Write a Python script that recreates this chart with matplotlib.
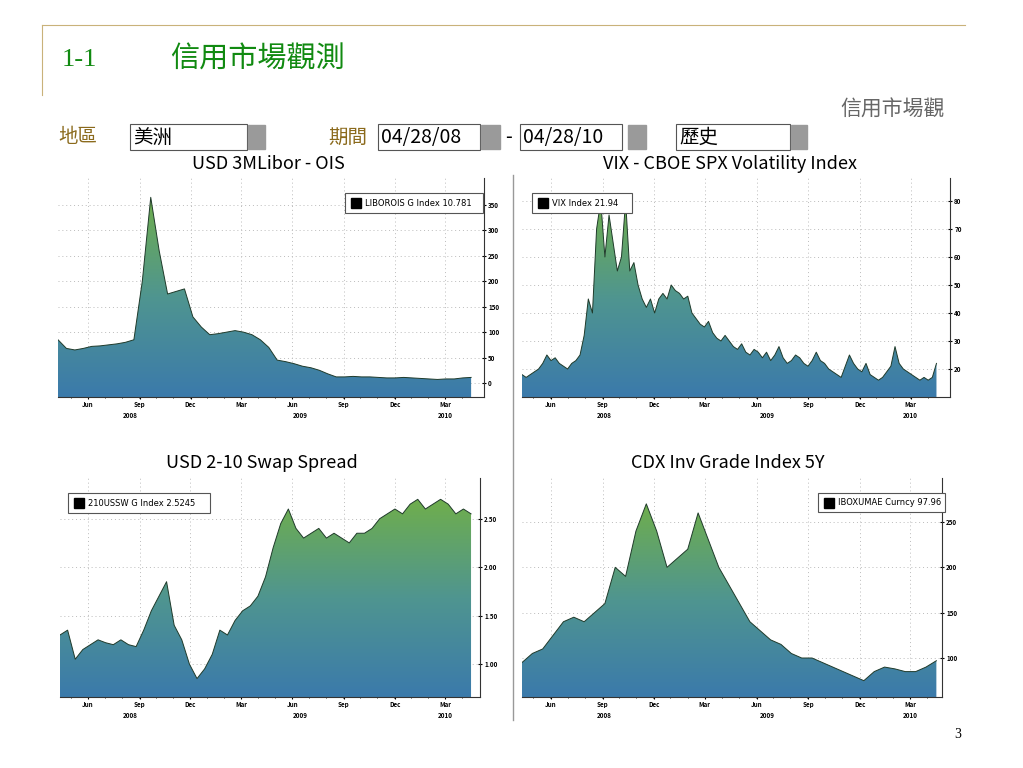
import numpy as np
import matplotlib
matplotlib.use("Agg")
import matplotlib.pyplot as plt
from matplotlib.colors import LinearSegmentedColormap
from matplotlib.patches import Rectangle, Polygon

plt.rcParams['font.family'] = ['Noto Sans CJK TC', 'DejaVu Sans']

libor_ois = [85, 68, 65, 68, 72, 73, 75, 77, 80, 85, 200, 365, 260, 175, 180, 185, 130, 110, 95, 97,
             100, 103, 100, 95, 85, 70, 45, 42, 38, 33, 30, 25, 18, 12, 12, 13, 12, 12, 11, 10,
             10, 11, 10, 9, 8, 7, 8, 8, 10, 11]
vix = [18, 17, 18, 19, 20, 22, 25, 23, 24, 22, 21, 20, 22, 23, 25, 32, 45, 40, 70, 80, 60, 75, 65, 55, 60,
       80, 55, 58, 50, 45, 42, 45, 40, 45, 47, 45, 50, 48, 47, 45, 46, 40, 38, 36, 35, 37, 33, 31, 30, 32,
       30, 28, 27, 29, 26, 25, 27, 26, 24, 26, 23, 25, 28, 24, 22, 23, 25, 24, 22, 21, 23, 26, 23, 22, 20,
       19, 18, 17, 21, 25, 22, 20, 19, 22, 18, 17, 16, 17, 19, 21, 28, 22, 20, 19, 18, 17, 16, 17, 16, 17, 22]
swap_2_10 = [1.30, 1.35, 1.05, 1.15, 1.20, 1.25, 1.22, 1.20, 1.25, 1.20, 1.18, 1.35, 1.55, 1.70, 1.85, 1.40,
             1.25, 1.00, 0.85, 0.95, 1.10, 1.35, 1.30, 1.45, 1.55, 1.60, 1.70, 1.90, 2.20, 2.45, 2.60, 2.40,
             2.30, 2.35, 2.40, 2.30, 2.35, 2.30, 2.25, 2.35, 2.35, 2.40, 2.50, 2.55, 2.60, 2.55, 2.65, 2.70,
             2.60, 2.65, 2.70, 2.65, 2.55, 2.60, 2.55]
cdx_ig = [95, 105, 110, 125, 140, 145, 140, 150, 160, 200, 190, 240, 270, 240, 200, 210, 220, 260, 230, 200,
          180, 160, 140, 130, 120, 115, 105, 100, 100, 95, 90, 85, 80, 75, 85, 90, 88, 85, 85, 90, 97]

titles = ["USD 3MLibor - OIS", "VIX - CBOE SPX Volatility Index", "USD 2-10 Swap Spread", "CDX Inv Grade Index 5Y"]
legends = ["LIBOROIS G Index 10.781", "VIX Index 21.94", "210USSW G Index 2.5245", "IBOXUMAE Curncy 97.96"]
month_labels = ["Jun", "Sep", "Dec", "Mar", "Jun", "Sep", "Dec", "Mar"]
month_days = [34, 126, 217, 307, 399, 491, 582, 672]
years = ["2008", "2009", "2010"]

W, H = 1023, 768
fig = plt.figure(figsize=(W / 100, H / 100), dpi=100)
ov = fig.add_axes([0, 0, 1, 1])
ov.set_xlim(0, W); ov.set_ylim(H, 0); ov.axis('off')

green = '#118a11'
ov.plot([42, 965], [25, 25], color='#c9b27a', lw=0.8)
ov.plot([42, 42], [25, 95], color='#c9b27a', lw=0.8)
ov.text(62, 60, "1-1", fontsize=19, color=green, family='Liberation Serif', va='center')
ov.text(170, 60, "信用市場觀測", fontsize=21, color=green, va='center')
ov.text(945, 110, "信用市場觀", fontsize=15, color='#666666', va='center', ha='right')
brown = '#8b6a1c'
ov.text(58, 137, "地區", fontsize=14, color=brown, va='center')
ov.text(328, 137, "期間", fontsize=14, color=brown, va='center')
ov.text(505, 137, "-", fontsize=14, color='black', va='center')
for (x0, x1, gx0, gx1, t) in [(130, 247, 248, 265, "美洲"), (378, 480, 481, 500, "04/28/08"),
                              (520, 622, 628, 646, "04/28/10"), (676, 790, 791, 807, "歷史")]:
    ov.add_patch(Rectangle((x0, 124), x1 - x0, 26, fill=False, ec='#555555', lw=0.8))
    ov.add_patch(Rectangle((gx0, 125), gx1 - gx0, 24, color='#9a9a9a'))
    ov.text(x0 + 3, 137, t, fontsize=14, color='black', va='center')
ov.text(958, 735, "3", fontsize=10, family='Liberation Serif', va='center', ha='center')
ov.plot([513, 513], [175, 720], color='#999999', lw=1)
ov.text(268, 164, titles[0], fontsize=13, ha='center', va='center')
ov.text(730, 164, titles[1], fontsize=13, ha='center', va='center')
ov.text(262, 463, titles[2], fontsize=13, ha='center', va='center')
ov.text(728, 463, titles[3], fontsize=13, ha='center', va='center')

cmap = LinearSegmentedColormap.from_list('g', ['#3b7aab', '#4f9590', '#6fae4c'])

panels = [
    (libor_ois, (58, 484, 178, 397), (-19.6, 741), (-27.5, 403), [0, 50, 100, 150, 200, 250, 300, 350], "{:.0f}",
     (345, 193, 138, 20), (130, 300, 445)),
    (vix, (522, 950, 178, 397), (-17, 742), (10.0, 88.2), [20, 30, 40, 50, 60, 70, 80], "{:.0f}",
     (532, 193, 100, 20), (604, 767, 910)),
    (swap_2_10, (60, 480, 478, 697), (-16, 734), (0.66, 2.92), [1.0, 1.5, 2.0, 2.5], "{:.2f}",
     (68, 493, 142, 20), (130, 300, 445)),
    (cdx_ig, (522, 942, 478, 697), (-17, 728), (57, 298.5), [100, 150, 200, 250], "{:.0f}",
     (818, 493, 127, 19), (604, 767, 910)),
]

for i, (vals, (l, r, t, b), xl, yl, yt, fmt, lg, yrx) in enumerate(panels):
    ax = fig.add_axes([l / W, 1 - b / H, (r - l) / W, (b - t) / H])
    x = np.linspace(xl[0], 718, len(vals))
    y = np.array(vals, dtype=float)
    grad = np.linspace(0, 1, 256).reshape(-1, 1)
    im = ax.imshow(grad, extent=[x[0], x[-1], yl[0], y.max()], origin='lower', aspect='auto',
                   cmap=cmap, zorder=2)
    poly = Polygon(np.column_stack([np.r_[x[0], x, x[-1]], np.r_[yl[0], y, yl[0]]]), closed=True,
                   transform=ax.transData, fc='none', ec='none')
    ax.add_patch(poly)
    im.set_clip_path(poly)
    ax.plot(x, y, color='#1f3a2a', lw=0.7, zorder=3)
    ax.set_xlim(*xl); ax.set_ylim(*yl)
    for s in ['top', 'left']:
        ax.spines[s].set_visible(False)
    ax.spines['right'].set_color('#333333'); ax.spines['bottom'].set_color('#333333')
    ax.spines['right'].set_linewidth(0.8); ax.spines['bottom'].set_linewidth(0.8)
    ax.yaxis.tick_right()
    ax.set_yticks(yt)
    ax.set_yticklabels([fmt.format(v) for v in yt], fontsize=4.5, fontweight='bold')
    ax.set_xticks(month_days)
    ax.set_xticklabels(month_labels, fontsize=4.5, fontweight='bold')
    ax.set_xticks(np.arange(3, 731, 30.4), minor=True)
    ax.tick_params(axis='both', which='major', length=3, width=0.8, pad=1.5, direction='inout')
    ax.tick_params(axis='x', which='minor', length=2, direction='inout')
    ax.grid(True, color='#bbbbbb', ls=(0, (1, 3)), lw=0.7, zorder=1)
    ax.set_facecolor('white')
    for yx, yr in zip(yrx, years):
        ov.text(yx, b + 19, yr, fontsize=4.5, fontweight='bold', ha='center', va='center')
    gx, gy, gw, gh = lg
    ov.add_patch(Rectangle((gx, gy), gw, gh, fc='white', ec='#555555', lw=0.8, zorder=5))
    ov.add_patch(Rectangle((gx + 6, gy + 5), 10, 10, color='black', zorder=6))
    ov.text(gx + 20, gy + gh / 2, legends[i], fontsize=6, va='center', zorder=6, family='DejaVu Sans')

ov.set_zorder(10)
fig.savefig("out.png", dpi=100)
